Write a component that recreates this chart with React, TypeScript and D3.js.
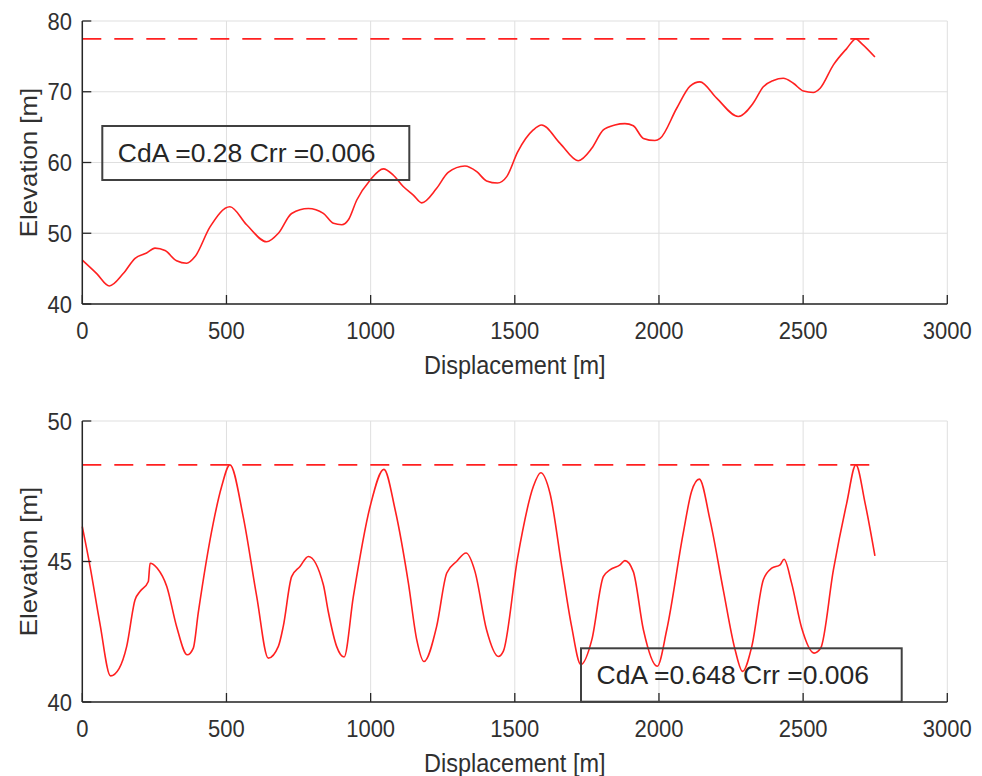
import React from "react";
import * as d3 from "d3";

// Elevation profile along the route, first run (CdA = 0.28)
const topDisp = [0, 50, 94, 142, 183, 223, 252, 287, 327, 362, 391, 443, 512, 570, 639, 680, 726, 784, 836, 871, 900, 923, 952, 998, 1044, 1079, 1113, 1148, 1177, 1229, 1269, 1327, 1368, 1402, 1440, 1472, 1510, 1564, 1593, 1657, 1720, 1767, 1807, 1847, 1882, 1911, 1946, 1986, 2004, 2062, 2108, 2142, 2200, 2275, 2327, 2362, 2397, 2431, 2466, 2501, 2535, 2559, 2605, 2651, 2683, 2703, 2749];
const topElev = [46.2, 44.3, 42.55, 44.3, 46.45, 47.2, 47.9, 47.55, 46.1, 45.75, 46.7, 50.9, 53.75, 51.2, 48.8, 50.0, 52.8, 53.5, 52.8, 51.4, 51.2, 51.9, 54.7, 57.5, 59.1, 58.2, 56.6, 55.4, 54.3, 56.35, 58.6, 59.5, 58.7, 57.4, 57.1, 58.0, 61.5, 64.6, 65.3, 62.7, 60.25, 62.0, 64.6, 65.3, 65.5, 65.2, 63.4, 63.1, 63.4, 67.7, 70.8, 71.4, 69.1, 66.5, 68.4, 70.7, 71.6, 71.9, 71.2, 70.1, 69.9, 70.5, 73.8, 76.1, 77.46, 76.8, 74.9];

// Elevation profile along the route, second run (CdA = 0.648)
const bottomDisp = [0, 27, 61, 98, 128, 154, 183, 200, 229, 235, 260, 293, 327, 364, 385, 402, 454, 483, 512, 558, 605, 645, 680, 697, 726, 755, 784, 836, 853, 882, 908, 940, 998, 1046, 1085, 1131, 1160, 1185, 1229, 1264, 1298, 1331, 1362, 1402, 1443, 1460, 1510, 1564, 1590, 1622, 1663, 1697, 1729, 1767, 1807, 1830, 1865, 1882, 1911, 1946, 1994, 2027, 2084, 2113, 2140, 2177, 2223, 2264, 2290, 2322, 2362, 2391, 2420, 2434, 2460, 2495, 2538, 2561, 2605, 2651, 2683, 2715, 2749];
const bottomElev = [46.24, 44.82, 42.8, 40.93, 41.2, 41.98, 43.64, 43.93, 44.29, 44.94, 44.76, 44.11, 42.69, 41.68, 41.92, 43.16, 46.36, 47.66, 48.44, 46.6, 43.75, 41.56, 41.98, 42.69, 44.46, 44.82, 45.18, 44.17, 43.22, 41.98, 41.6, 43.75, 46.95, 48.28, 46.84, 44.23, 42.21, 41.44, 42.69, 44.59, 45.0, 45.3, 44.64, 42.57, 41.62, 41.8, 45.15, 47.66, 48.16, 47.43, 44.82, 42.69, 41.33, 42.21, 44.46, 44.7, 44.88, 45.03, 44.64, 42.57, 41.27, 42.57, 46.0, 47.49, 47.93, 46.48, 43.99, 41.86, 41.09, 41.98, 44.35, 44.76, 44.88, 45.08, 44.23, 42.63, 41.74, 41.92, 44.7, 47.07, 48.44, 47.07, 45.2];

const xTicks = [0, 500, 1000, 1500, 2000, 2500, 3000];
const topYTicks = [40, 50, 60, 70, 80];
const bottomYTicks = [40, 45, 50];
const refLineEnd = 2735;

const topLabel = "CdA =0.28 Crr =0.006";
const bottomLabel = "CdA =0.648 Crr =0.006";

const W = 982;
const H = 776;
const AXIS = "#262626";
const TEXT = "#303030";
const GRID = "#dfdfdf";
const RED = "#ff2020";
const FONT = "'Liberation Sans', Arial, Helvetica, sans-serif";

type PanelProps = {
  disp: number[];
  elev: number[];
  yDomain: [number, number];
  yTicks: number[];
  top: number;
  bottom: number;
  label: string;
  box: { x: number; y: number; w: number; h: number };
};

const xScale = d3.scaleLinear().domain([0, 3000]).range([82.3, 947.3]);

function Panel({ disp, elev, yDomain, yTicks, top, bottom, label, box }: PanelProps) {
  const y = d3.scaleLinear().domain(yDomain).range([bottom, top]);
  const x = xScale;
  const [x0, x1] = x.range();
  const pts = disp.map((d, i) => [d, elev[i]] as [number, number]);
  const line = d3
    .line<[number, number]>()
    .x((d) => x(d[0]))
    .y((d) => y(d[1]))
    .curve(d3.curveMonotoneX);
  const peak = d3.max(elev) as number;
  const tickLen = 9;
  const sy = 1.1;

  return (
    <g>
      {/* grid */}
      {xTicks.map((t) => (
        <line key={"gx" + t} x1={x(t)} x2={x(t)} y1={top} y2={bottom} stroke={GRID} strokeWidth={1} />
      ))}
      {yTicks.map((t) => (
        <line key={"gy" + t} x1={x0} x2={x1} y1={y(t)} y2={y(t)} stroke={GRID} strokeWidth={1} />
      ))}

      {/* profile and its peak level */}
      <path d={line(pts) ?? ""} fill="none" stroke={RED} strokeWidth={1.6} strokeLinejoin="round" />
      <line
        x1={x(0)}
        x2={x(refLineEnd)}
        y1={y(peak)}
        y2={y(peak)}
        stroke={RED}
        strokeWidth={1.8}
        strokeDasharray="19 13"
      />

      {/* axes */}
      <line x1={x0} x2={x0} y1={top} y2={bottom} stroke={AXIS} strokeWidth={1.5} />
      <line x1={x0} x2={x1} y1={bottom} y2={bottom} stroke={AXIS} strokeWidth={1.5} />
      {xTicks.map((t) => (
        <line key={"tx" + t} x1={x(t)} x2={x(t)} y1={bottom} y2={bottom - tickLen} stroke={AXIS} strokeWidth={1.3} />
      ))}
      {yTicks.map((t) => (
        <line key={"ty" + t} x1={x0} x2={x0 + tickLen} y1={y(t)} y2={y(t)} stroke={AXIS} strokeWidth={1.3} />
      ))}

      {/* tick labels */}
      {xTicks.map((t) => (
        <text
          key={"lx" + t}
          transform={`translate(${x(t)},${bottom + 35}) scale(1,${sy})`}
          textAnchor="middle"
          fontSize={22}
          fill={TEXT}
          fontFamily={FONT}
        >
          {t}
        </text>
      ))}
      {yTicks.map((t) => (
        <text
          key={"ly" + t}
          transform={`translate(72,${y(t) + 8.5}) scale(1,${sy})`}
          textAnchor="end"
          fontSize={22}
          fill={TEXT}
          fontFamily={FONT}
        >
          {t}
        </text>
      ))}

      {/* axis titles */}
      <text
        transform={`translate(${(x0 + x1) / 2},${bottom + 70}) scale(1,${sy})`}
        textAnchor="middle"
        fontSize={23.5}
        fill={TEXT}
        fontFamily={FONT}
      >
        Displacement [m]
      </text>
      <text
        transform={`translate(37,${(top + bottom) / 2}) scale(1,${sy}) rotate(-90)`}
        textAnchor="middle"
        fontSize={23.5}
        fill={TEXT}
        fontFamily={FONT}
      >
        Elevation [m]
      </text>

      {/* parameter annotation */}
      <rect x={box.x} y={box.y} width={box.w} height={box.h} fill="none" stroke="#404040" strokeWidth={2} />
      <text x={box.x + 15.5} y={box.y + 35.5} fontSize={26.5} fill={AXIS} fontFamily={FONT}>
        {label}
      </text>
    </g>
  );
}

export default function App() {
  return (
    <svg
      width={W}
      height={H}
      viewBox={`0 0 ${W} ${H}`}
      style={{ position: "absolute", left: 0, top: 0, background: "#fff", display: "block" }}
    >
      <rect x={0} y={0} width={W} height={H} fill="#fff" />
      <Panel
        disp={topDisp}
        elev={topElev}
        yDomain={[40, 80]}
        yTicks={topYTicks}
        top={21}
        bottom={304}
        label={topLabel}
        box={{ x: 102.3, y: 126, w: 307, h: 54 }}
      />
      <Panel
        disp={bottomDisp}
        elev={bottomElev}
        yDomain={[40, 50]}
        yTicks={bottomYTicks}
        top={421}
        bottom={702}
        label={bottomLabel}
        box={{ x: 581, y: 648.3, w: 320.7, h: 53.4 }}
      />
    </svg>
  );
}
